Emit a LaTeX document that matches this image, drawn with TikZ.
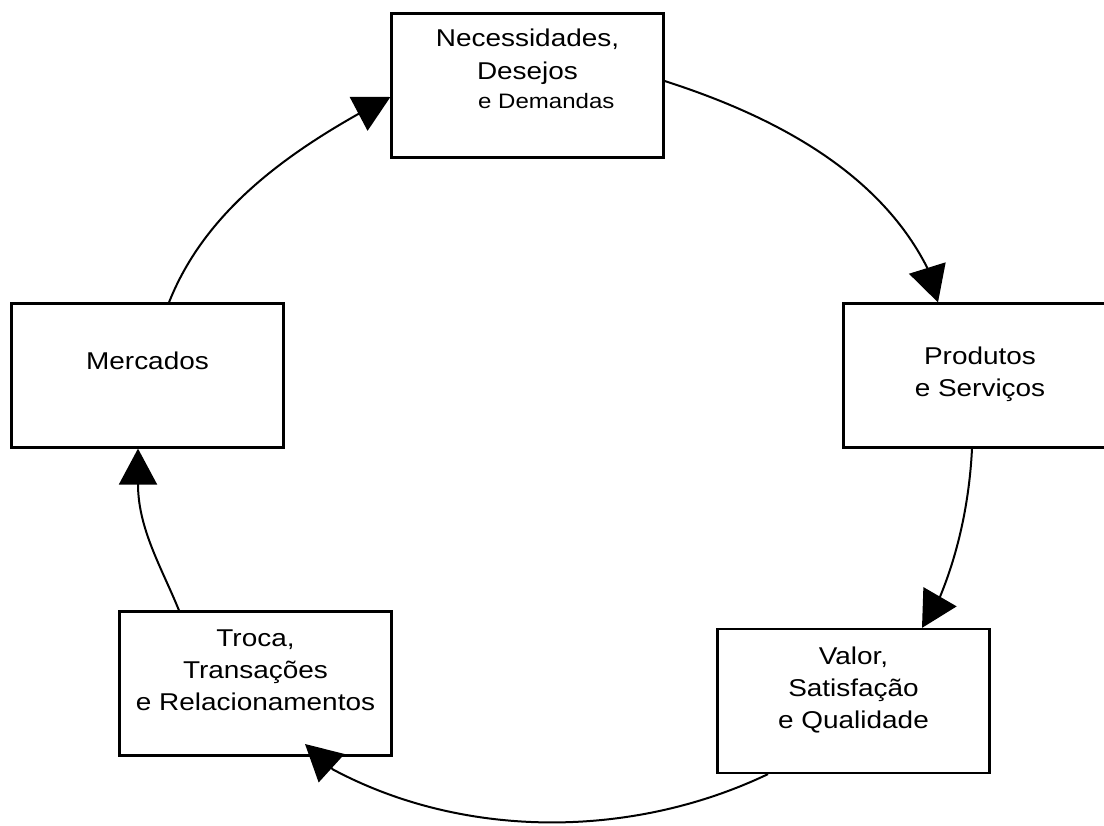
\documentclass[tikz,border=0pt]{standalone}
\usepackage{fontspec}
\newfontfamily\diagfont[FakeStretch=1.15]{Liberation Sans}
\usetikzlibrary{arrows.meta}
\tikzset{
  box/.style={draw, line width=2.2pt, minimum width=272pt, minimum height=144pt, inner sep=0pt},
  txt/.style={anchor=base, inner sep=0pt, font=\diagfont\fontsize{24.3pt}{32pt}\selectfont},
  smalltxt/.style={anchor=base west, inner sep=0pt, font=\diagfont\fontsize{20.9pt}{26pt}\selectfont},
  arc/.style={line width=2pt, line join=round, -{Triangle[length=36pt,width=38pt]}}
}
\begin{document}
\begin{tikzpicture}[x=1pt,y=-1pt]
\path[use as bounding box] (0,0) rectangle (1104,826);
\fill[white] (0,0) rectangle (1104,826);
\clip (0,0) rectangle (1104,826);

% boxes
\node[box] (nec)   at (527.5,85.5) {};
\node[box] (prod)  at (979.5,375.5) {};
\node[box] (val)   at (853.5,701) {};
\node[box] (troca) at (255.5,683.5) {};
\node[box] (merc)  at (147.5,375.5) {};

% texts
\node[txt] (necT) at (527.5,47) {\parbox[t]{270pt}{\centering\baselineskip=33pt Necessidades,\\Desejos}};
\node[smalltxt] (necT2) at (478,109) {e Demandas};
\node[txt] (prodT) at (980,365) {\parbox[t]{270pt}{\centering Produtos\\e Serviços}};
\node[txt] (valT) at (853.5,664) {\parbox[t]{270pt}{\centering Valor,\\Satisfação\\e Qualidade}};
\node[txt] (trocaT) at (255.5,646) {\parbox[t]{270pt}{\centering Troca,\\Transações\\e Relacionamentos}};
\node[txt] (mercT) at (147.5,370) {\parbox[t]{270pt}{\centering Mercados}};

% connectors: curve to the arrowhead base, then straight to the tip
\draw[arc] ([yshift=4.5pt]nec.east) .. controls +(105.5,33.8) and +(-49.5,-98) .. ([xshift=-52.3pt,yshift=34.7pt]prod.north) -- ([xshift=-41.5pt]prod.north);
\draw[arc] ([xshift=-7.5pt]prod.south) .. controls +(-2.5,51) and +(19,-46) .. ([xshift=86.5pt,yshift=31.1pt]val.north) -- ([xshift=68.5pt]val.north);
\draw[arc] ([xshift=-85.5pt]val.south) .. controls +(-135,64.5) and +(132,70.5) .. ([xshift=77.5pt,yshift=-12.9pt]troca.south) -- ([xshift=49.5pt,yshift=12.6pt]troca.south);
\draw[arc] ([xshift=-76.5pt]troca.north) .. controls +(-17,-42) and +(0,45) .. ([xshift=-9.5pt,yshift=-35.4pt]merc.south) -- ([xshift=-9.5pt]merc.south);
\draw[arc] ([xshift=21.5pt]merc.north) .. controls +(34,-86) and +(-81,45.6) .. ([xshift=-31.4pt,yshift=-28.1pt]nec.west) -- ([yshift=-11.5pt]nec.west);
\end{tikzpicture}
\end{document}
